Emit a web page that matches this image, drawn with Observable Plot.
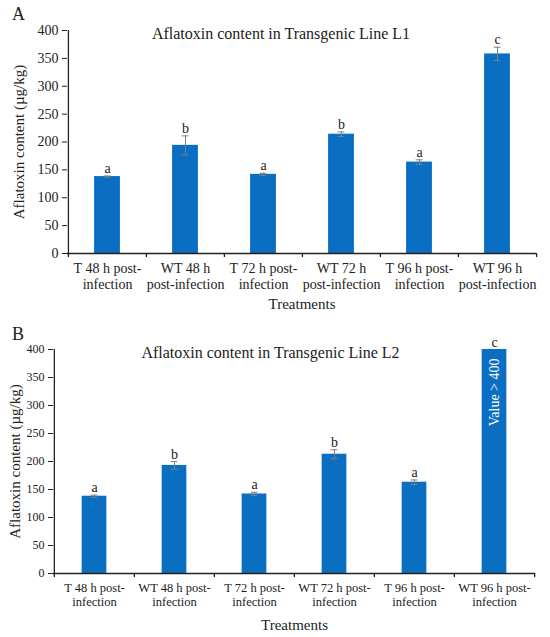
<!DOCTYPE html>
<html>
<head>
<meta charset="utf-8">
<script src="https://cdn.jsdelivr.net/npm/d3@7"></script>
<script src="https://cdn.jsdelivr.net/npm/@observablehq/plot@0.6"></script>
<style>
  body { margin: 0; background: #fff; }
  #chart { width: 550px; }
  #chart svg { display: block; }
  #chart svg, #chart svg text, #chart svg tspan { font-family: "Liberation Serif", "Times New Roman", serif !important; }
</style>
</head>
<body>
<div id="chart"></div>
<script>
// ---- data ----
const treatments = ["T48", "WT48", "T72", "WT72", "T96", "WT96"];
const labelsA = ["T 48 h post-\ninfection", "WT 48 h\npost-infection", "T 72 h post-\ninfection",
                 "WT 72 h\npost-infection", "T 96 h post-\ninfection", "WT 96 h\npost-infection"];
const labelsB = ["T 48 h post-\ninfection", "WT 48 h post-\ninfection", "T 72 h post-\ninfection",
                 "WT 72 h post-\ninfection", "T 96 h post-\ninfection", "WT 96 h post-\ninfection"];
const valuesL1 = [138, 194, 142, 214, 164, 358];
const errorsL1 = [1, 17, 2, 4, 4, 12];
const valuesL2 = [138, 193, 142, 213, 163, 400];   // last bar: value > 400 (truncated at axis max)
const errorsL2 = [2, 7, 3, 8, 4, 0];
const lettersL1 = ["a", "b", "a", "b", "a", "c"];
const lettersL2 = ["a", "b", "a", "b", "a", "c"];
const yTicks = [0, 50, 100, 150, 200, 250, 300, 350, 400];

const BLUE = "#0a6fc2";
const GRAY = "#7f7f7f";
const FONT = "Liberation Serif";

function panel(opts) {
  const {values, errors, letters, labels, title, tag, height, mL, mR, mT, mB,
         tickFont, xTickFont, lineH, xPad, yLabelDx, titleDy, barW, over} = opts;
  const rows = treatments.map((t, i) => ({t, v: values[i], e: errors[i], l: letters[i]}));
  const bw = (550 - mL - mR) / treatments.length;
  const inset = (bw - barW) / 2;
  const capInset = (bw - 7) / 2;
  const withErr = rows.filter(d => d.e > 0);
  const marks = [
    Plot.barY(rows, {x: "t", y: "v", fill: BLUE, insetLeft: inset, insetRight: inset}),
    Plot.ruleX(withErr, {x: "t", y1: d => d.v - d.e, y2: d => d.v + d.e, stroke: GRAY, strokeWidth: 1}),
    Plot.tickY(withErr, {x: "t", y: d => d.v + d.e, stroke: GRAY, insetLeft: capInset, insetRight: capInset}),
    Plot.tickY(withErr, {x: "t", y: d => d.v - d.e, stroke: GRAY, insetLeft: capInset, insetRight: capInset}),
    Plot.text(rows, {x: "t", y: d => d.v + d.e, text: "l", dy: -3, lineAnchor: "bottom",
                     fontSize: 14, fill: "#222", fontFamily: FONT}),
    // axes lines
    Plot.ruleY([0], {stroke: "#222", strokeWidth: 1.3}),
    Plot.ruleX([treatments[0]], {dx: -bw / 2, y1: 0, y2: 400, stroke: "#222", strokeWidth: 1.3}),
    // category boundary ticks
    Plot.ruleX(treatments, {x: d => d, dx: -bw / 2, y1: 0, y2: 0, insetBottom: -4, stroke: "#222", strokeWidth: 1.3}),
    Plot.ruleX([treatments[treatments.length - 1]], {dx: bw / 2, y1: 0, y2: 0, insetBottom: -4, stroke: "#222", strokeWidth: 1.3}),
    Plot.axisY({ticks: yTicks, tickSize: 5, tickPadding: 4, label: null, fontSize: tickFont,
                fontFamily: FONT, color: "#222"}),
    Plot.axisX({tickSize: 0, tickPadding: xPad, label: null, fontSize: xTickFont, fontFamily: FONT,
                lineHeight: lineH, tickFormat: (d) => labels[treatments.indexOf(d)], color: "#222"}),
    // title
    Plot.text([title], {frameAnchor: "top", dx: opts.titleDx, dy: titleDy, fontSize: 16, fontFamily: FONT,
               fill: "#222", lineAnchor: "middle"}),
    // y label
    Plot.text(["Aflatoxin content (µg/kg)"], {frameAnchor: "left", dx: yLabelDx, rotate: -90,
               textAnchor: "middle", lineAnchor: "middle", fontSize: 15, fontFamily: FONT, fill: "#222"}),
    // x label
    Plot.text(["Treatments"], {frameAnchor: "bottom", dy: opts.xLabelDy, fontSize: 15, fontFamily: FONT, fill: "#222"}),
    // panel tag
    Plot.text([tag], {frameAnchor: "top-left", dx: opts.tagDx, dy: opts.tagDy, textAnchor: "middle",
               lineAnchor: "middle", fontSize: 18, fontFamily: FONT, fill: "#222"})
  ];
  if (over) {
    const top = rows.filter(d => d.v >= 400);
    marks.push(Plot.text(top, {x: "t", y: "v", text: () => "Value > 400", rotate: -90, textAnchor: "end",
                               dy: 9, fill: "white", fontSize: 14, fontFamily: FONT}));
  }
  return Plot.plot({
    width: 550, height, marginLeft: mL, marginRight: mR, marginTop: mT, marginBottom: mB,
    style: {fontFamily: FONT, background: "white", overflow: "visible"},
    x: {type: "band", domain: treatments, padding: 0},
    y: {domain: [0, 400]},
    marks
  });
}

const A = panel({values: valuesL1, errors: errorsL1, letters: lettersL1, labels: labelsA,
  title: "Aflatoxin content in Transgenic Line L1", tag: "A", height: 310,
  mL: 67, mR: 14, mT: 30, mB: 57, tickFont: 14, xTickFont: 14, lineH: 1.1, xPad: 9,
  yLabelDx: -48, titleDx: -21, titleDy: 3, barW: 26, xLabelDy: 55, tagDx: -49, tagDy: -16});
const B = panel({values: valuesL2, errors: errorsL2, letters: lettersL2, labels: labelsB,
  title: "Aflatoxin content in Transgenic Line L2", tag: "B", height: 327,
  mL: 53, mR: 15, mT: 39, mB: 64, tickFont: 12, xTickFont: 12.5, lineH: 1.12, xPad: 9,
  yLabelDx: -38, titleDx: -24, titleDy: 3, barW: 25, xLabelDy: 56, tagDx: -35.5, tagDy: -15.5, over: true});
document.getElementById("chart").append(A, B);
</script>
</body>
</html>
